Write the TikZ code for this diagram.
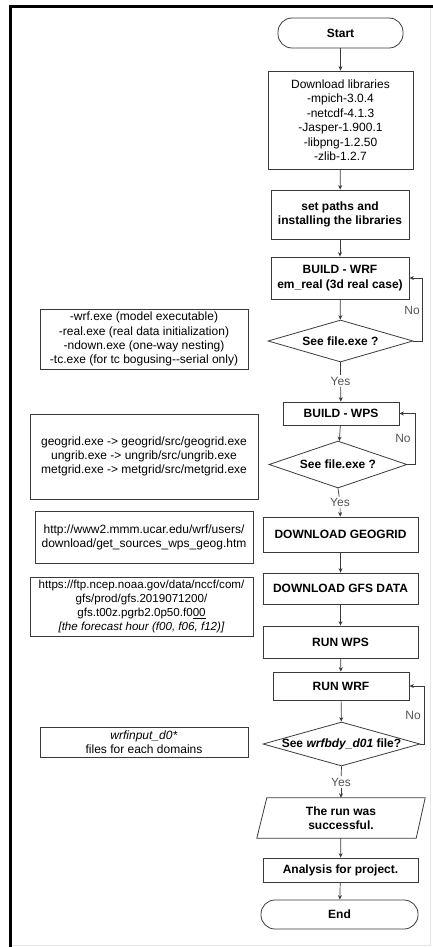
\documentclass[tikz,border=0pt]{standalone}
\usepackage{fontspec}
\setmainfont{Liberation Sans}
\usetikzlibrary{arrows.meta,shapes.geometric,calc}
\definecolor{linec}{HTML}{3A3A3A}
\definecolor{lblc}{HTML}{555555}
\begin{document}
\begin{tikzpicture}[x=1pt,y=-1pt,
  box/.style={draw=linec, line width=0.8pt, inner sep=0pt, align=center, font=\fontsize{12}{14.4}\selectfont\bfseries},
  term/.style={box, rounded corners=14pt},
  dec/.style={draw=linec, line width=0.8pt, diamond, inner sep=0pt},
  dectext/.style={inner sep=0pt, align=center, font=\fontsize{12}{14.4}\selectfont\bfseries},
  note/.style={draw=linec, line width=0.8pt, inner sep=0pt, align=center, font=\fontsize{12}{14.2}\selectfont},
  yn/.style={inner sep=1.5pt, text=lblc, font=\fontsize{12}{14.4}\selectfont},
  arr/.style={draw=linec, line width=0.7pt, -{Stealth[length=4.5pt,width=4pt]}},
  ln/.style={draw=linec, line width=0.7pt}
]
\useasboundingbox (0,0) rectangle (433,947);
% frame
\draw[line width=3pt] (433,6.5) -| (10,947);
\draw[gray!20, line width=0.8pt] (430.5,8) -- (430.5,945) -- (12,945);

% main flow
\node[term, minimum width=125pt, minimum height=30pt] (start) at (340.5,33) {Start};
\node[box, minimum width=145pt, minimum height=98pt, font=\fontsize{12}{14.5}\selectfont] (dl) at (340.5,120)
  {Download libraries\\-mpich-3.0.4\\-netcdf-4.1.3\\-Jasper-1.900.1\\-libpng-1.2.50\\-zlib-1.2.7};
\node[box, minimum width=138pt, minimum height=49pt] (paths) at (340,214.5) {set paths and\\installing the libraries};
\node[box, minimum width=138pt, minimum height=42pt] (wrf) at (340,278) {BUILD - WRF\\em\_real (3d real case)};
\node[dec, minimum width=145pt, minimum height=42pt] (d1) at (340.5,341) {};
\node[dectext] (d1t) at (d1) {See file.exe ?};
\node[box, minimum width=116pt, minimum height=23pt] (wps) at (341,413.5) {BUILD - WPS};
\node[dec, minimum width=138pt, minimum height=47pt] (d2) at (338,464.5) {};
\node[dectext] (d2t) at (d2) {See file.exe ?};
\node[box, minimum width=155pt, minimum height=35pt] (geog) at (340.5,534.5) {DOWNLOAD GEOGRID};
\node[box, minimum width=155pt, minimum height=31pt] (gfs) at (340.5,588.5) {DOWNLOAD GFS DATA};
\node[box, minimum width=155pt, minimum height=32pt] (runwps) at (340.5,642) {RUN WPS};
\node[box, minimum width=136pt, minimum height=28pt] (runwrf) at (341,686) {RUN WRF};
\node[dec, minimum width=157pt, minimum height=44pt] (d3) at (341.5,744) {};
\node[dectext] (d3t) at (d3) {See \textit{wrfbdy\_d01} file?};
\node[inner sep=0pt, minimum width=158pt, minimum height=40pt, align=center,
      font=\fontsize{12}{14.4}\selectfont\bfseries] (succ) at (341,818) {The run was\\successful.};
\draw[draw=linec, line width=0.8pt] ([xshift=5pt]succ.north west) -- ([xshift=5pt]succ.north east)
  -- ([xshift=-4pt]succ.south east) -- ([xshift=-5pt]succ.south west) -- cycle;
\node[box, minimum width=155pt, minimum height=24pt] (ana) at (340.5,870) {Analysis for project.};
\node[term, minimum width=157pt, minimum height=29pt] (end) at (339.5,914.5) {End};

% notes
\node[note, minimum width=208pt, minimum height=60pt] (n1) at (144,339)
  {-wrf.exe (model executable)\\-real.exe (real data initialization)\\-ndown.exe (one-way nesting)\\-tc.exe (for tc bogusing{-}{-}serial only)};
\node[note, minimum width=228pt, minimum height=85pt] (n2) at (144,456.5)
  {geogrid.exe -> geogrid/src/geogrid.exe\\ungrib.exe -> ungrib/src/ungrib.exe\\metgrid.exe -> metgrid/src/metgrid.exe};
\node[note, minimum width=218pt, minimum height=52pt] (n3) at (144,537)
  {http://www2.mmm.ucar.edu/wrf/users/\\download/get\_sources\_wps\_geog.htm};
\node[note, minimum width=223pt, minimum height=59pt, font=\fontsize{11.6}{14}\selectfont] (n4) at (141.5,606.5)
  {https://ftp.ncep.noaa.gov/data/nccf/com/\\gfs/prod/gfs.2019071200/\\gfs.t00z.pgrb2.0p50.f0\underline{00}\\\textit{[the forecast hour (f00, f06, f12)]}};
\node[note, minimum width=208pt, minimum height=30pt, font=\fontsize{12}{13.5}\selectfont] (n5) at (144,742)
  {\textit{wrfinput\_d0*}\\files for each domains};

% connectors
\draw[arr] (start) -- (dl);
\draw[arr] (dl) -- (paths);
\draw[arr] (paths) -- (wrf);
\draw[arr] (wrf) -- (d1);
\coordinate (l1) at (422,341);
\draw[arr] (d1.east) -- (l1) |- (wrf.east);
\node[yn] (no1) at (412,310) {No};
\node[yn] (y1) at (340.5,381) {Yes};
\draw[ln] (d1.south) -- (y1);
\draw[arr] (y1) -- (wps);
\draw[arr] (wps) -- (d2);
\coordinate (l2) at (415,464.5);
\draw[arr] (d2.east) -- (l2) |- (wps.east);
\node[yn] (no2) at (403,438) {No};
\node[yn] (y2) at (340,502.5) {Yes};
\draw[ln] (d2.south) -- (y2);
\draw[arr] (y2) -- (geog);
\draw[arr] (geog) -- (gfs);
\draw[arr] (gfs) -- (runwps);
\draw[arr] (runwps) -- (runwrf);
\draw[arr] (runwrf) -- (d3);
\coordinate (l3) at (424,744);
\draw[arr] (d3.east) -- (l3) |- (runwrf.east);
\node[yn] (no3) at (413,715) {No};
\node[yn] (y3) at (341,782) {Yes};
\draw[ln] (d3.south) -- (y3);
\draw[arr] (y3) -- (succ);
\draw[arr] (succ) -- (ana);
\draw[arr] (ana) -- (end);
\end{tikzpicture}
\end{document}
